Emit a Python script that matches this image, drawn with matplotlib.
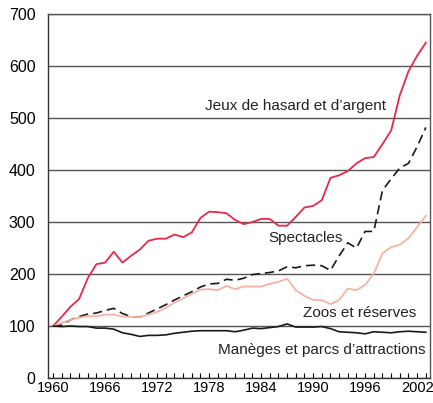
import matplotlib.pyplot as plt
import numpy as np

# années 1960-2003
years = np.arange(1960, 2004)

jeux = [100, 118, 137, 152, 192, 219, 222, 243, 222, 235,
        247, 264, 268, 268, 276, 271, 280, 308, 320, 319,
        317, 304, 296, 300, 306, 306, 293, 293, 310, 328,
        331, 342, 385, 390, 398, 413, 423, 425, 450, 476,
        544, 590, 620, 645]

spectacles = [100, 102, 112, 118, 123, 125, 130, 134, 124, 118,
              117, 125, 133, 141, 150, 158, 166, 175, 181, 182,
              190, 188, 192, 199, 201, 203, 206, 214, 212, 216,
              217, 216, 207, 235, 260, 250, 282, 282, 361, 383,
              404, 413, 445, 482]

zoos = [100, 106, 112, 116, 119, 119, 122, 122, 118, 118,
        117, 122, 127, 135, 145, 153, 162, 170, 171, 169,
        177, 171, 176, 176, 176, 181, 185, 191, 169, 158,
        150, 150, 142, 150, 172, 169, 179, 201, 240, 252,
        256, 269, 290, 312]

maneges = [100, 99, 100, 99, 99, 96, 96, 94, 87, 84,
           80, 82, 82, 83, 86, 88, 90, 91, 91, 91,
           91, 89, 92, 96, 95, 97, 99, 104, 98, 98,
           98, 99, 95, 89, 88, 87, 85, 89, 88, 87,
           89, 90, 89, 88]

labels = ["Jeux de hasard et d\u2019argent", "Spectacles",
          "Zoos et réserves", "Manèges et parcs d\u2019attractions"]

plt.rcParams['font.family'] = ['Liberation Sans', 'DejaVu Sans']

fig = plt.figure(figsize=(4.33, 4.03), dpi=100)
ax = fig.add_axes([0.111, 0.062, 0.882, 0.903])

ax.plot(years, jeux, color='#e8294a', linewidth=1.3)
ax.plot(years, spectacles, color='#1a1a1a', linewidth=1.2, linestyle=(0, (5.5, 3)))
ax.plot(years, zoos, color='#f7b2a5', linewidth=1.3)
ax.plot(years, maneges, color='#1a1a1a', linewidth=1.2)

ax.set_xlim(1959.42, 2003.48)
ax.set_ylim(0, 700)
ax.set_yticks(np.arange(0, 701, 100))
ax.set_xticks(np.arange(1960, 2003, 6))
ax.set_xticks(years, minor=True)
ax.yaxis.grid(True, color='#555555', linewidth=1.0)
ax.set_axisbelow(True)

ax.tick_params(axis='y', length=0, pad=9, labelsize=11.5)
ax.tick_params(axis='x', which='both', direction='in', length=3.5, width=0.8,
               pad=2, labelsize=10.5)

for side in ['left', 'bottom', 'right', 'top']:
    ax.spines[side].set_color('#555555')
    ax.spines[side].set_linewidth(1.0)
ax.spines['left'].set_color('#333333')
ax.spines['bottom'].set_color('#333333')

ax.text(1988.0, 523, labels[0], fontsize=11, ha='center', va='center', color='#222222')
ax.text(1989.1, 269, labels[1], fontsize=11, ha='center', va='center', color='#222222')
ax.text(1995.4, 125, labels[2], fontsize=11, ha='center', va='center', color='#222222')
ax.text(1991.0, 54, labels[3], fontsize=11, ha='center', va='center', color='#222222')

fig.savefig('out.png', dpi=100)
